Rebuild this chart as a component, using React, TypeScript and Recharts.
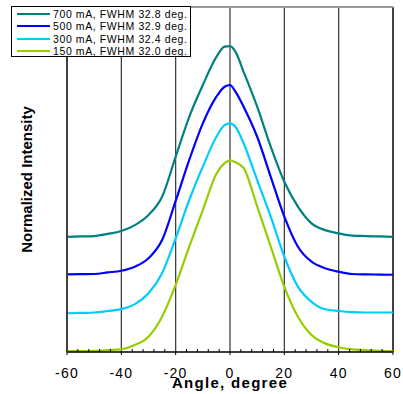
import { LineChart, Line, XAxis, YAxis, ReferenceLine } from 'recharts';

const angles = [-60, -55, -50, -45, -40, -35, -30, -25, -20, -15, -10, -5, -2, 0, 2, 5, 10, 15, 20, 25, 30, 35, 40, 45, 50, 55, 60];

// normalized intensity, each curve stacked with its own vertical offset
const i700 = [0.601, 0.603, 0.605, 0.616, 0.631, 0.662, 0.715, 0.81, 1.019, 1.227, 1.393, 1.54, 1.593, 1.596, 1.567, 1.462, 1.28, 1.071, 0.888, 0.758, 0.671, 0.636, 0.619, 0.607, 0.605, 0.603, 0.601];
const i500 = [0.405, 0.406, 0.407, 0.415, 0.424, 0.445, 0.489, 0.584, 0.788, 1.002, 1.193, 1.332, 1.384, 1.393, 1.358, 1.28, 1.123, 0.914, 0.706, 0.549, 0.471, 0.437, 0.419, 0.407, 0.405, 0.404, 0.403];
const i300 = [0.202, 0.204, 0.206, 0.214, 0.224, 0.25, 0.306, 0.411, 0.593, 0.793, 0.967, 1.123, 1.184, 1.193, 1.175, 1.089, 0.897, 0.706, 0.497, 0.341, 0.262, 0.223, 0.214, 0.208, 0.206, 0.206, 0.206];
const i150 = [0.005, 0.005, 0.006, 0.01, 0.015, 0.037, 0.08, 0.184, 0.35, 0.55, 0.74, 0.93, 0.985, 1.0, 0.99, 0.96, 0.76, 0.55, 0.34, 0.184, 0.089, 0.045, 0.025, 0.014, 0.01, 0.006, 0.005];

const seriesNames = ['700 mA, FWHM 32.8 deg.', '500 mA, FWHM 32.9 deg.', '300 mA, FWHM 32.4 deg.', '150 mA, FWHM 32.0 deg.'];
const seriesKeys = ['i700', 'i500', 'i300', 'i150'];
const seriesColors = ['#008080', '#0000ff', '#00ccff', '#99cc00'];

const majorTicks = [-60, -40, -20, 0, 20, 40, 60];
const gridAngles = [-40, -20, 0, 20, 40];
const minorTicks = [-60, -56, -52, -48, -44, -40, -36, -32, -28, -24, -20, -16, -12, -8, -4, 0, 4, 8, 12, 16, 20, 24, 28, 32, 36, 40, 44, 48, 52, 56, 60];

const data = angles.map((a, i) => ({
    angle: a,
    i700: i700[i],
    i500: i500[i],
    i300: i300[i],
    i150: i150[i],
}));

const FONT = '"Liberation Sans", Arial, sans-serif';

const AngleTick = ({ x, y, payload }: any) => {
    const v = payload.value;
    const isMajor = majorTicks.includes(v);
    return (
        <g>
            {isMajor ? (
                <line x1={x} y1={y} x2={x} y2={y + 3} stroke="#000" strokeWidth={1} />
            ) : (
                <line x1={x} y1={y} x2={x} y2={y - 3} stroke="#000" strokeWidth={1} />
            )}
            {isMajor && (
                <text x={x} y={y + 26} textAnchor="middle" fontSize={14} fill="#000"
                    fontFamily={FONT} letterSpacing={1.2}>
                    {v}
                </text>
            )}
        </g>
    );
};

export default function App() {
    return (
        <div style={{ position: 'absolute', left: 0, top: 0, width: 403, height: 394, background: '#fff', fontFamily: FONT }}>
            <LineChart width={403} height={394} data={data} margin={{ top: 7, right: 10, left: 0, bottom: 0 }}>
                <XAxis
                    dataKey="angle"
                    type="number"
                    domain={[-60, 60]}
                    ticks={minorTicks}
                    interval={0}
                    tickLine={false}
                    tickSize={0}
                    tickMargin={0}
                    tick={<AngleTick />}
                    height={42}
                    axisLine={{ stroke: '#000', strokeWidth: 1.5 }}
                    label={{
                        value: 'Angle, degree',
                        position: 'insideBottom',
                        offset: 6,
                        fill: '#000',
                        fontSize: 15,
                        fontWeight: 'bold',
                        letterSpacing: 1.3,
                        fontFamily: FONT,
                    }}
                />
                <YAxis
                    type="number"
                    domain={[0, 1.8]}
                    width={67}
                    tick={false}
                    tickLine={false}
                    axisLine={{ stroke: '#404040', strokeWidth: 2 }}
                    label={{
                        value: 'Normalized Intensity',
                        angle: -90,
                        position: 'insideLeft',
                        offset: 27,
                        fill: '#000',
                        fontSize: 15,
                        fontWeight: 'bold',
                        fontFamily: FONT,
                        style: { textAnchor: 'middle' },
                    }}
                />
                {gridAngles.map((a) => (
                    <ReferenceLine key={a} x={a} stroke="#333" strokeWidth={1.2} />
                ))}
                <ReferenceLine x={60} stroke="#000" strokeWidth={1.5} />
                <ReferenceLine y={1.8} stroke="#999" strokeWidth={2} />
                {seriesKeys.map((k, i) => (
                    <Line
                        key={k}
                        dataKey={k}
                        name={seriesNames[i]}
                        type="monotone"
                        stroke={seriesColors[i]}
                        strokeWidth={2.2}
                        dot={false}
                        isAnimationActive={false}
                    />
                ))}
            </LineChart>
            <div
                style={{
                    position: 'absolute',
                    left: 11,
                    top: 6,
                    width: 180,
                    height: 51,
                    boxSizing: 'border-box',
                    border: '1px solid #000',
                    background: '#fff',
                    paddingTop: 1,
                }}
            >
                {seriesNames.map((n, i) => (
                    <div key={n} style={{ display: 'flex', alignItems: 'center', height: 12, marginTop: i === 2 ? 1 : 0 }}>
                        <div style={{ width: 33, height: 2, background: seriesColors[i], marginLeft: 5, marginRight: 3 }} />
                        <span style={{ fontSize: 10.5, letterSpacing: 0.6, color: '#000', lineHeight: '12px', whiteSpace: 'nowrap' }}>{n}</span>
                    </div>
                ))}
            </div>
        </div>
    );
}
